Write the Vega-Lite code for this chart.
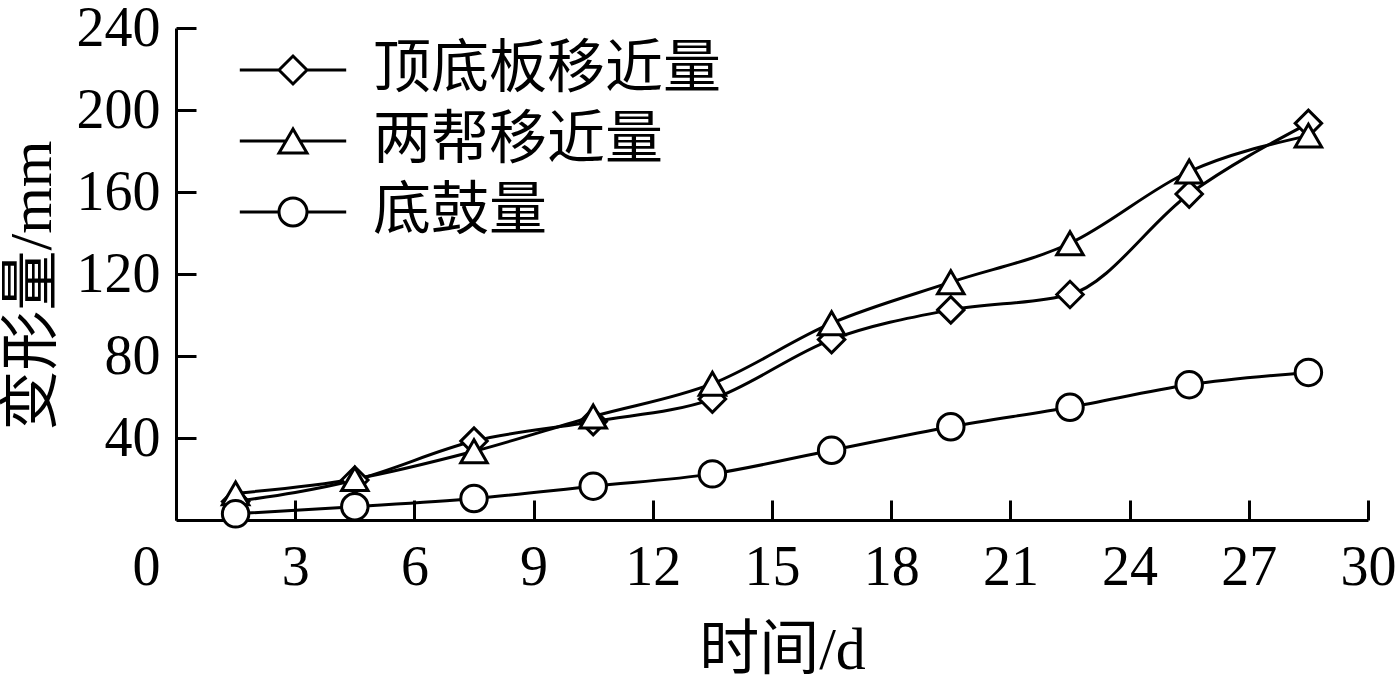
{
  "$schema": "https://vega.github.io/schema/vega-lite/v6.json",
  "width": 1192,
  "height": 492,
  "autosize": {"type": "none"},
  "padding": {"left": 176, "top": 28, "right": 32, "bottom": 158},
  "background": "white",
  "config": {
    "view": {"stroke": null},
    "point": {"opacity": 1},
    "axis": {
      "domainColor": "black", "domainWidth": 3,
      "tickColor": "black", "tickWidth": 3, "tickSize": -20,
      "grid": false,
      "labelFont": "Liberation Serif", "labelFontSize": 56, "labelColor": "black",
      "titleFont": "Liberation Serif, Noto Sans CJK SC", "titleFontSize": 60,
      "titleFontWeight": "normal", "titleColor": "black",
      "labelFlush": false, "labelOverlap": false
    }
  },
  "data": {
    "values": [
      {"series": "顶底板移近量", "t": 1.5, "v": 9},
      {"series": "顶底板移近量", "t": 4.5, "v": 19.5},
      {"series": "顶底板移近量", "t": 7.5, "v": 38.5},
      {"series": "顶底板移近量", "t": 10.5, "v": 48},
      {"series": "顶底板移近量", "t": 13.5, "v": 59},
      {"series": "顶底板移近量", "t": 16.5, "v": 88},
      {"series": "顶底板移近量", "t": 19.5, "v": 102.5},
      {"series": "顶底板移近量", "t": 22.5, "v": 110},
      {"series": "顶底板移近量", "t": 25.5, "v": 159},
      {"series": "顶底板移近量", "t": 28.5, "v": 193.5},
      {"series": "两帮移近量", "t": 1.5, "v": 13},
      {"series": "两帮移近量", "t": 4.5, "v": 20},
      {"series": "两帮移近量", "t": 7.5, "v": 33.5},
      {"series": "两帮移近量", "t": 10.5, "v": 50.5},
      {"series": "两帮移近量", "t": 13.5, "v": 66.5},
      {"series": "两帮移近量", "t": 16.5, "v": 96},
      {"series": "两帮移近量", "t": 19.5, "v": 116},
      {"series": "两帮移近量", "t": 22.5, "v": 135},
      {"series": "两帮移近量", "t": 25.5, "v": 170},
      {"series": "两帮移近量", "t": 28.5, "v": 187.5},
      {"series": "底鼓量", "t": 1.5, "v": 3},
      {"series": "底鼓量", "t": 4.5, "v": 6.5},
      {"series": "底鼓量", "t": 7.5, "v": 10.5},
      {"series": "底鼓量", "t": 10.5, "v": 16.5},
      {"series": "底鼓量", "t": 13.5, "v": 22.5},
      {"series": "底鼓量", "t": 16.5, "v": 34},
      {"series": "底鼓量", "t": 19.5, "v": 45.5},
      {"series": "底鼓量", "t": 22.5, "v": 55},
      {"series": "底鼓量", "t": 25.5, "v": 66},
      {"series": "底鼓量", "t": 28.5, "v": 72}
    ]
  },
  "encoding": {
    "x": {
      "field": "t", "type": "quantitative",
      "scale": {"domain": [0, 30], "nice": false, "zero": false},
      "axis": {
        "title": "时间/d",
        "values": [0, 3, 6, 9, 12, 15, 18, 21, 24, 27, 30],
        "labelPadding": 40,
        "titlePadding": 26,
        "titleX": 606,
        "labelOffset": {"condition": {"test": "datum.value === 0", "value": -30}, "value": 0}
      }
    },
    "y": {
      "field": "v", "type": "quantitative",
      "scale": {"domain": [0, 240], "nice": false},
      "axis": {
        "title": "变形量/mm",
        "values": [40, 80, 120, 160, 200, 240],
        "labelPadding": 36,
        "titlePadding": 13,
        "titleY": 257
      }
    }
  },
  "resolve": {"scale": {"shape": "independent"}, "legend": {"shape": "independent"}},
  "layer": [
    {
      "mark": {"type": "line", "interpolate": "monotone", "color": "black", "strokeWidth": 3},
      "encoding": {"detail": {"field": "series", "type": "nominal"}}
    },
    {
      "mark": {"type": "point", "filled": true, "fill": "white", "stroke": "black", "strokeWidth": 3, "size": 700},
      "encoding": {
        "shape": {
          "field": "series", "type": "nominal",
          "scale": {"domain": ["顶底板移近量", "两帮移近量", "底鼓量"], "range": ["diamond", "triangle-up", "circle"]},
          "legend": null
        }
      }
    },
    {
      "mark": {"type": "point", "filled": true, "fill": "white", "stroke": "black", "strokeWidth": 0, "size": 0},
      "encoding": {
        "shape": {
          "field": "series", "type": "nominal",
          "scale": {
            "domain": ["顶底板移近量", "两帮移近量", "底鼓量"],
            "range": [
              "M-3.8,0L-1,0M1,0L3.8,0M-1,0L0,-1L1,0L0,1Z",
              "M-3.8,0L-0.5,0M0.5,0L3.8,0M0,-0.866L-1,0.866L1,0.866Z",
              "M-3.8,0L-1,0M1,0L3.8,0M1,0A1,1,0,1,1,-1,0A1,1,0,1,1,1,0Z"
            ]
          },
          "legend": {
            "title": null,
            "orient": "none",
            "legendX": 88,
            "legendY": 13,
            "labelOffset": 51,
            "labelFont": "Noto Sans CJK SC",
            "labelFontSize": 58,
            "labelColor": "black",
            "labelLimit": 0,
            "rowPadding": 13,
            "symbolSize": 784,
            "symbolStrokeWidth": 3
          }
        }
      }
    }
  ]
}
